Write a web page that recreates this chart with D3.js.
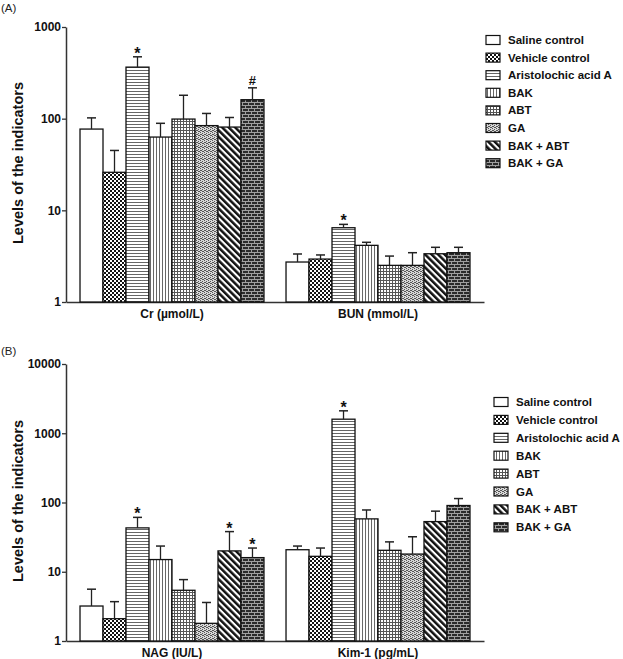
<!DOCTYPE html>
<html><head><meta charset="utf-8">
<script src="https://cdn.jsdelivr.net/npm/d3@7/dist/d3.min.js"></script>
<style>
body{margin:0;background:#fff;}
svg{display:block;font-family:"Liberation Sans",Arial,sans-serif;}
</style></head>
<body><svg id="c" width="623" height="659"></svg>
<script>
const series = ["Saline control","Vehicle control","Aristolochic acid A","BAK","ABT","GA","BAK + ABT","BAK + GA"];
const groupsA = ["Cr (µmol/L)","BUN (mmol/L)"];
const groupsB = ["NAG (IU/L)","Kim-1 (pg/mL)"];
const ticksA = [1,10,100,1000];
const ticksB = [1,10,100,1000,10000];

const crMean  = [77, 26, 365, 63, 99, 84, 81, 161];
const crUpper = [102, 45, 473, 89, 180, 114, 103, 217];
const crMarks = ["", "", "*", "", "", "", "", "#"];
const bunMean  = [2.73, 2.94, 6.46, 4.15, 2.51, 2.51, 3.36, 3.45];
const bunUpper = [3.34, 3.26, 7.03, 4.48, 3.17, 3.45, 3.95, 3.95];
const bunMarks = ["", "", "*", "", "", "", "", ""];

const nagMean  = [3.2, 2.1, 43, 15, 5.4, 1.8, 20, 16];
const nagUpper = [5.6, 3.7, 61, 23.5, 7.7, 3.6, 38, 22];
const nagMarks = ["", "", "*", "", "", "", "*", "*"];
const kimMean  = [20.8, 16.7, 1596, 58, 20.4, 18, 53, 90.5];
const kimUpper = [23.5, 22, 2108, 78, 27, 32, 75, 114];
const kimMarks = ["", "", "*", "", "", "", "", ""];

const svg = d3.select("#c");
const defs = svg.append("defs");

function pat(id, w, h, build, transform){
  const p = defs.append("pattern").attr("id", id).attr("patternUnits","userSpaceOnUse")
    .attr("width", w).attr("height", h);
  if (transform) p.attr("patternTransform", transform);
  build(p);
}
pat("p0", 4, 4, p => p.append("rect").attr("width",4).attr("height",4).attr("fill","#fff"));
pat("p1", 4, 4, p => {
  p.append("rect").attr("width",4).attr("height",4).attr("fill","#fff");
  p.append("rect").attr("width",2).attr("height",2).attr("fill","#111");
  p.append("rect").attr("x",2).attr("y",2).attr("width",2).attr("height",2).attr("fill","#111");
});
pat("p2", 4, 3, p => {
  p.append("rect").attr("width",4).attr("height",3).attr("fill","#fff");
  p.append("rect").attr("y",1).attr("width",4).attr("height",1).attr("fill","#666");
});
pat("p3", 3, 4, p => {
  p.append("rect").attr("width",3).attr("height",4).attr("fill","#fff");
  p.append("rect").attr("x",1).attr("width",1).attr("height",4).attr("fill","#666");
});
pat("p4", 3, 3, p => {
  p.append("rect").attr("width",3).attr("height",3).attr("fill","#fff");
  p.append("rect").attr("y",1).attr("width",3).attr("height",1).attr("fill","#555");
  p.append("rect").attr("x",1).attr("width",1).attr("height",3).attr("fill","#555");
});
pat("p5", 4, 4, p => {
  p.append("rect").attr("width",4).attr("height",4).attr("fill","#d8d8d8");
  [[0,0],[2,1],[1,2],[3,3],[0,2],[2,3]].forEach(([x,y]) =>
    p.append("rect").attr("x",x).attr("y",y).attr("width",1).attr("height",1).attr("fill","#555"));
});
pat("p6", 4.6, 4.6, p => {
  p.append("rect").attr("width",4.6).attr("height",4.6).attr("fill","#fff");
  p.append("rect").attr("width",2.5).attr("height",4.6).attr("fill","#111");
}, "rotate(-45)");
pat("p7", 6, 6, p => {
  p.append("rect").attr("width",6).attr("height",6).attr("fill","#2b2b2b");
  p.append("rect").attr("y",0).attr("width",6).attr("height",1).attr("fill","#a0a0a0");
  p.append("rect").attr("y",3).attr("width",6).attr("height",1).attr("fill","#a0a0a0");
  p.append("rect").attr("x",0).attr("y",0).attr("width",1).attr("height",3).attr("fill","#a0a0a0");
  p.append("rect").attr("x",3).attr("y",3).attr("width",1).attr("height",3).attr("fill","#a0a0a0");
});
const fills = series.map((s,i) => `url(#p${i})`);

function panel(cfg){
  const g = svg.append("g");
  const y = d3.scaleLog().domain([1, cfg.max]).range([cfg.y0, cfg.y1]);
  const x = d3.scaleBand().domain(cfg.groups).range([66, 484]).paddingInner(0.107).paddingOuter(0.068);
  const xs = d3.scaleBand().domain(series).range([0, x.bandwidth()]).padding(0);

  const ya = d3.axisLeft(y).tickValues(cfg.ticks).tickFormat(d3.format("d")).tickSize(4).tickSizeOuter(0);
  const yg = g.append("g").attr("transform", "translate(66,0)").call(ya);
  yg.select(".domain").attr("stroke","#333").attr("stroke-width",1.5);
  yg.selectAll(".tick line").attr("stroke","#333").attr("stroke-width",1.3);
  yg.selectAll(".tick text").attr("font-size", 12).attr("font-weight","bold").attr("fill","#111")
    .attr("font-family","Liberation Sans, Arial, sans-serif").attr("x",-5);

  const xa = d3.axisBottom(x).tickSize(0).tickSizeOuter(0);
  const xg = g.append("g").attr("transform", `translate(0,${cfg.y0})`).call(xa);
  xg.select(".domain").attr("stroke","#333").attr("stroke-width",1.5);
  xg.selectAll(".tick text").attr("font-size", 12).attr("font-weight","bold").attr("fill","#111")
    .attr("font-family","Liberation Sans, Arial, sans-serif").attr("dy", 0).attr("y", cfg.labelDy);

  cfg.groups.forEach((grp, gi) => {
    const means = cfg.means[gi], ups = cfg.uppers[gi], marks = cfg.marks[gi];
    const gg = g.append("g").attr("transform", `translate(${x(grp)},0)`);
    gg.selectAll("rect.bar").data(series).join("rect").attr("class","bar")
      .attr("x", s => xs(s)).attr("width", xs.bandwidth())
      .attr("y", (s,i) => y(means[i])).attr("height", (s,i) => cfg.y0 - y(means[i]))
      .attr("fill", (s,i) => fills[i]).attr("stroke", "#111").attr("stroke-width", 1.3);
    gg.selectAll("line.eb").data(series).join("line").attr("class","eb")
      .attr("x1", s => xs(s) + xs.bandwidth()/2).attr("x2", s => xs(s) + xs.bandwidth()/2)
      .attr("y1", (s,i) => y(means[i])).attr("y2", (s,i) => y(ups[i]))
      .attr("stroke","#222").attr("stroke-width",1.3);
    gg.selectAll("line.cap").data(series).join("line").attr("class","cap")
      .attr("x1", s => xs(s) + xs.bandwidth()/2 - 4.5).attr("x2", s => xs(s) + xs.bandwidth()/2 + 4.5)
      .attr("y1", (s,i) => y(ups[i])).attr("y2", (s,i) => y(ups[i]))
      .attr("stroke","#222").attr("stroke-width",1.5);
    gg.selectAll("text.mk").data(series.filter((s,i)=>marks[i])).join("text").attr("class","mk")
      .attr("x", s => xs(s) + xs.bandwidth()/2)
      .attr("y", s => { const i = series.indexOf(s); return y(ups[i]) + (marks[i]==="*" ? 2 : -3); })
      .attr("text-anchor","middle")
      .attr("font-size", s => marks[series.indexOf(s)]==="*" ? 16 : 13)
      .attr("font-weight","bold").attr("fill","#111")
      .text(s => marks[series.indexOf(s)]);
  });

  g.append("text").attr("transform", `translate(${cfg.titleX},${cfg.titleY}) rotate(-90)`)
    .attr("text-anchor","middle").attr("dominant-baseline","central")
    .attr("font-size", 14.5).attr("font-weight","bold").attr("fill","#111")
    .text("Levels of the indicators");

  g.append("text").attr("x", 1).attr("y", cfg.tagY).attr("font-size", 11.5).attr("fill","#222").text(cfg.tag);

  const lg = g.append("g");
  series.forEach((s,i) => {
    const cy = cfg.legY + i*cfg.legStep;
    lg.append("rect").attr("x", cfg.legX).attr("y", cy - 4.5).attr("width", 14).attr("height", 9)
      .attr("fill", fills[i]).attr("stroke","#111").attr("stroke-width",1.2);
    lg.append("text").attr("x", cfg.legX + 22).attr("y", cy).attr("dominant-baseline","central")
      .attr("font-size", 11.5).attr("font-weight","bold").attr("fill","#111").text(s);
  });
}

panel({groups: groupsA, max: 1000, ticks: ticksA, y0: 302, y1: 27,
  means: [crMean, bunMean], uppers: [crUpper, bunUpper], marks: [crMarks, bunMarks],
  labelDy: 16, titleX: 18, titleY: 163, tag: "(A)", tagY: 12,
  legX: 486, legY: 40, legStep: 17.6});
panel({groups: groupsB, max: 10000, ticks: ticksB, y0: 641, y1: 364,
  means: [nagMean, kimMean], uppers: [nagUpper, kimUpper], marks: [nagMarks, kimMarks],
  labelDy: 16, titleX: 18, titleY: 501, tag: "(B)", tagY: 355,
  legX: 494, legY: 402, legStep: 17.9});
</script></body></html>
